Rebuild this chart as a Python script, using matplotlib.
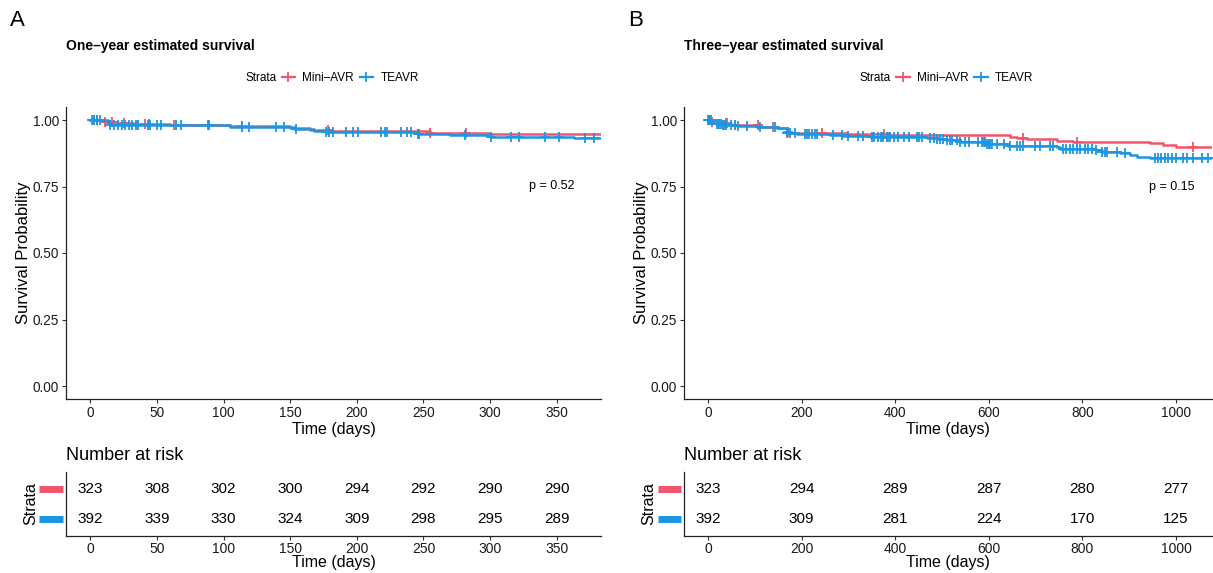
import numpy as np
import matplotlib
matplotlib.use("Agg")
import matplotlib.pyplot as plt
from matplotlib.lines import Line2D

plt.rcParams['font.family'] = ['Liberation Sans', 'DejaVu Sans']

RED = '#F2546B'
BLUE = '#1B96E3'
strata = ['Mini–AVR', 'TEAVR']

# ---- panel A: one-year KM curves (step points) ----
a_red_t = [0, 10, 20, 35, 60, 105, 150, 165, 180, 255, 300]
a_red_s = [1.0, 0.992, 0.987, 0.984, 0.981, 0.977, 0.969, 0.962, 0.957, 0.951, 0.948]
a_blue_t = [0, 13, 15, 105, 153, 168, 177, 246, 270, 301, 363]
a_blue_s = [1.0, 0.990, 0.980, 0.975, 0.967, 0.959, 0.954, 0.947, 0.944, 0.936, 0.931]
a_red_cens = [3, 5, 11, 16, 25, 41, 44, 63, 114, 178, 255, 282]
a_blue_cens = [1, 3, 5, 7, 15, 17.6, 21, 24, 26, 29, 31, 34, 36, 43, 45, 50, 53,
               64, 68, 88, 89, 114, 119, 139, 145, 154, 177, 179, 182, 192, 197, 201,
               218, 221, 223, 233, 238, 241, 246, 247, 281, 301, 316, 322, 341, 352, 371, 378]
a_pval = 'p = 0.52'
a_risk_t = [0, 50, 100, 150, 200, 250, 300, 350]
a_risk_red = [323, 308, 302, 300, 294, 292, 290, 290]
a_risk_blue = [392, 339, 330, 324, 309, 298, 295, 289]

# ---- panel B: three-year KM curves ----
b_red_t = [0, 8, 32, 50, 111, 147, 168, 175, 246, 296, 389, 645, 660, 681, 745, 780, 944, 973, 1001]
b_red_s = [1.0, 0.992, 0.987, 0.981, 0.975, 0.969, 0.956, 0.952, 0.950, 0.946, 0.9436, 0.935,
           0.931, 0.9286, 0.921, 0.9186, 0.912, 0.906, 0.900]
b_blue_t = [0, 11, 18, 30, 61, 104, 147, 168, 190, 261, 289, 346, 467, 489, 510, 538, 595, 640,
            745, 752, 830, 841, 880, 902, 916, 944]
b_blue_s = [1.0, 0.990, 0.984, 0.981, 0.979, 0.975, 0.969, 0.952, 0.947, 0.944, 0.941, 0.937,
            0.934, 0.9286, 0.925, 0.919, 0.909, 0.903, 0.900, 0.891, 0.887, 0.878, 0.875,
            0.868, 0.862, 0.856]
b_red_cens = [4, 8, 38, 41, 57, 107, 139, 171, 243, 376, 674, 788, 1037]
b_blue_cens = [1, 3, 5, 7, 18.5, 21, 24, 28, 31, 35, 38, 50, 57, 65, 83, 111, 143, 168, 175, 186,
               207, 211, 215, 222, 229, 232, 268, 286, 300, 321, 332, 350, 354, 364, 369, 374,
               383, 385, 389, 397, 407, 418, 429, 447, 450, 457, 475, 482, 489, 496, 503, 510,
               517, 521, 532, 539, 550, 557, 578, 585, 589, 592, 596, 600, 603, 607, 618, 632,
               646, 660, 667, 674, 699, 709, 731, 738, 759, 766, 774, 780, 788, 795, 806, 813,
               820, 830, 841, 848, 852, 873, 891, 955, 962, 969, 976, 983, 991, 1001, 1015,
               1023, 1037, 1055, 1069]
b_pval = 'p = 0.15'
b_risk_t = [0, 200, 400, 600, 800, 1000]
b_risk_red = [323, 294, 289, 287, 280, 277]
b_risk_blue = [392, 309, 281, 224, 170, 125]

W, H = 1213, 573
fig = plt.figure(figsize=(W / 100, H / 100), dpi=100)


def px(x0, y0, x1, y1):
    # pixel box -> figure fraction rect
    return [x0 / W, 1 - y1 / H, (x1 - x0) / W, (y1 - y0) / H]


def style(ax):
    for s in ['top', 'right']:
        ax.spines[s].set_visible(False)
    for s in ['left', 'bottom']:
        ax.spines[s].set_linewidth(0.9)
        ax.spines[s].set_color('#222222')
    ax.tick_params(length=3, width=0.8, color='#333333', labelsize=9.8,
                   labelcolor='#1a1a1a', pad=2)


def km(ax, t, s, cens, color, tmax):
    tt = list(t) + [tmax]
    ss = list(s) + [s[-1]]
    ax.step(tt, ss, where='post', color=color, lw=1.8)
    idx = np.searchsorted(t, cens, side='right') - 1
    ax.plot(cens, np.array(s)[idx], ls='none', marker='+', color=color,
            ms=6.5, mew=1.3)


def panel(x0, x1, xlim, xticks, curves, pval, pval_xy, title, letter,
          risk_t, risk_rows):
    ax = fig.add_axes(px(x0, 106.7, x1, 399.3))
    style(ax)
    for t, s, cens, c in curves:
        km(ax, t, s, cens, c, xlim[1] + 30)
    ax.set_xlim(*xlim)
    ax.set_ylim(-0.05, 1.05)
    ax.set_xticks(xticks)
    ax.set_yticks([0, 0.25, 0.5, 0.75, 1.0])
    ax.set_yticklabels(['0.00', '0.25', '0.50', '0.75', '1.00'])
    ax.set_xlabel('Time (days)', fontsize=11.5, labelpad=1.5)
    ax.set_ylabel('Survival Probability', fontsize=12, labelpad=1)
    ax.text(pval_xy[0], pval_xy[1], pval, ha='center', va='center', fontsize=9)

    cx = (x0 + x1) / 2
    fig.text(x0 / W, 1 - 46 / H, title, fontsize=10, fontweight='bold', va='center')
    fig.text(x0 / W - 56 / W, 1 - 20 / H, letter, fontsize=16, va='center')
    fig.text((cx - 57) / W, 1 - 78 / H, 'Strata', fontsize=8.5, ha='right', va='center')
    handles = [Line2D([], [], color=c, lw=1.6, marker='+', ms=7, mew=1.3)
               for _, _, _, c in curves]
    fig.legend(handles, strata, loc='center left', ncol=2, frameon=False,
               bbox_to_anchor=((cx - 52) / W, 1 - 78 / H), fontsize=8.5,
               handlelength=1.15, handletextpad=0.6, columnspacing=0.5,
               borderpad=0, borderaxespad=0)

    # risk table
    rt = fig.add_axes(px(x0, 472, x1, 536))
    style(rt)
    rt.tick_params(axis='x', labelsize=10, pad=1.5)
    rt.set_xlim(*xlim)
    rt.set_ylim(0.433, 2.567)
    rt.set_xticks(xticks)
    rt.set_yticks([])
    rt.set_xlabel('Time (days)', fontsize=11.5, labelpad=-1)
    rt.set_ylabel('Strata', fontsize=11.5, labelpad=20)
    for yrow, (vals, c) in zip([2, 1], risk_rows):
        for t, v in zip(risk_t, vals):
            rt.text(t, yrow, str(v), ha='center', va='center', fontsize=11)
        rt.plot([-0.05, -0.006], [yrow, yrow], color=c, lw=5, solid_capstyle='butt',
                transform=rt.get_yaxis_transform(), clip_on=False)
    fig.text(x0 / W, 1 - 455 / H, 'Number at risk', fontsize=13, va='center')
    return ax


panel(66, 601, (-18.25, 383.25), [0, 50, 100, 150, 200, 250, 300, 350],
      [(a_red_t, a_red_s, a_red_cens, RED), (a_blue_t, a_blue_s, a_blue_cens, BLUE)],
      a_pval, (346, 0.752), 'One–year estimated survival', 'A',
      a_risk_t, [(a_risk_red, RED), (a_risk_blue, BLUE)])

panel(684, 1212, (-51.3, 1077), [0, 200, 400, 600, 800, 1000],
      [(b_red_t, b_red_s, b_red_cens, RED), (b_blue_t, b_blue_s, b_blue_cens, BLUE)],
      b_pval, (991, 0.748), 'Three–year estimated survival', 'B',
      b_risk_t, [(b_risk_red, RED), (b_risk_blue, BLUE)])

fig.savefig('out.png', dpi=100)
